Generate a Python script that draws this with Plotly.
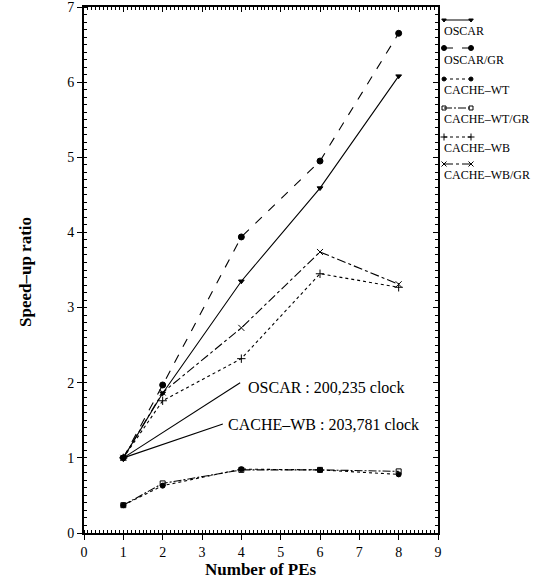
import plotly.graph_objects as go

pes = [1, 2, 4, 6, 8]
oscar = [1.0, 1.86, 3.35, 4.59, 6.08]
oscar_gr = [1.0, 1.97, 3.94, 4.95, 6.65]
cache_wt = [0.37, 0.63, 0.85, 0.84, 0.78]
cache_wt_gr = [0.37, 0.66, 0.84, 0.84, 0.82]
cache_wb = [1.0, 1.76, 2.32, 3.45, 3.27]
cache_wb_gr = [1.0, 1.87, 2.73, 3.74, 3.31]

names = ["OSCAR", "OSCAR/GR", "CACHE–WT", "CACHE–WT/GR", "CACHE–WB", "CACHE–WB/GR"]
series = [oscar, oscar_gr, cache_wt, cache_wt_gr, cache_wb, cache_wb_gr]
dashes = ["solid", "dash", "dot", "8px,2px,2px,2px", "dot", "dashdot"]
symbols = ["triangle-down", "circle", "circle", "square-open", "cross-thin-open", "x-thin-open"]
msizes = [5, 6, 5, 5, 6, 6]

notes = ["OSCAR : 200,235 clock", "CACHE–WB : 203,781 clock"]
note_ends = [(3.97, 2.0), (3.53, 1.45)]
note_text_pos = [(4.12, 1.94), (3.62, 1.44)]

FONT = "Liberation Serif"
W, H = 534, 579
ml, mt = 84, 7
mb = H - 533
mr = 0
pw = W - ml - mr
ph = H - mt - mb
dom = (438 - 84) / pw

fig = go.Figure()
for nm, ys, d, s, ms in zip(names, series, dashes, symbols, msizes):
    fig.add_trace(go.Scatter(
        x=pes, y=ys, mode="lines+markers", name=nm,
        line=dict(color="black", width=1.1, dash=d),
        marker=dict(symbol=s, size=ms, color="black", line=dict(color="black", width=1)),
        showlegend=False, cliponaxis=False))

# empty trace so the mirrored top/right axes are drawn
fig.add_trace(go.Scatter(x=[None], y=[None], xaxis="x3", yaxis="y3",
                         showlegend=False, hoverinfo="skip"))

# custom legend: sample line above label (y in pixels)
leg_y = [20, 48, 79, 108, 137, 164]
txt_y = [31, 60, 90, 119, 148, 175]
for i, (nm, d, s, ms) in enumerate(zip(names, dashes, symbols, msizes)):
    fig.add_trace(go.Scatter(
        x=[0, 1], y=[leg_y[i], leg_y[i]], mode="lines+markers", xaxis="x2", yaxis="y2",
        line=dict(color="black", width=1, dash=d),
        marker=dict(symbol=s, size=ms - 1, color="black", line=dict(color="black", width=1)),
        showlegend=False, cliponaxis=False, hoverinfo="skip"))
    fig.add_annotation(x=0, y=txt_y[i], xref="x2", yref="y2", text=nm, showarrow=False,
                       xanchor="left", yanchor="middle", xshift=-2,
                       font=dict(family=FONT, size=12, color="black"))

for t, (ex, ey), (tx, ty) in zip(notes, note_ends, note_text_pos):
    fig.add_shape(type="line", x0=pes[0], y0=1.0, x1=ex, y1=ey, xref="x", yref="y",
                  line=dict(color="black", width=1.1))
    fig.add_annotation(x=tx, y=ty, xref="x", yref="y", text=t, showarrow=False,
                       xanchor="left", yanchor="middle",
                       font=dict(family=FONT, size=16, color="black"))

# axis titles as annotations for precise placement
fig.add_annotation(x=dom / 2, y=(H - 569 - mb) / ph, xref="paper", yref="paper",
                   text="<b>Number of PEs</b>", showarrow=False, xanchor="center",
                   yanchor="middle", font=dict(family=FONT, size=17, color="black"))
fig.add_annotation(x=(26 - ml) / pw, y=(H - mb - 272) / ph, xref="paper",
                   yref="paper", text="<b>Speed–up ratio</b>", showarrow=False,
                   textangle=-90, xanchor="center", yanchor="middle",
                   font=dict(family=FONT, size=17, color="black"))

minor = dict(ticks="inside", dtick=0.1, ticklen=3, tickcolor="black")
axis_common = dict(showgrid=False, zeroline=False, showline=True, linecolor="black",
                   linewidth=2, ticks="outside", ticklen=5, automargin=False,
                   tickcolor="black", tickwidth=1, ticklabeloverflow="allow",
                   tickfont=dict(family=FONT, size=14, color="black"))
mirror_common = dict(showgrid=False, zeroline=False, showline=True, linecolor="black",
                     linewidth=2, ticks="inside", ticklen=5, automargin=False,
                     tickcolor="black", tickwidth=1, showticklabels=False)
fig.update_layout(
    width=W, height=H, margin=dict(l=ml, r=mr, t=mt, b=mb, pad=0),
    paper_bgcolor="white", plot_bgcolor="white",
    xaxis=dict(domain=[0, dom], range=[0, 9], dtick=1, minor=minor, **axis_common),
    yaxis=dict(range=[0, 7], dtick=1, minor=minor, **axis_common),
    xaxis3=dict(overlaying="x", side="top", anchor="y3", range=[0, 9], dtick=1,
                minor=minor, **mirror_common),
    yaxis3=dict(overlaying="y", side="right", anchor="x3", range=[0, 7], dtick=1,
                minor=minor, **mirror_common),
    xaxis2=dict(domain=[(444 - 84) / pw, (471 - 84) / pw], range=[0, 1], visible=False,
                anchor="y2"),
    yaxis2=dict(domain=[0, 1], range=[533, 7], visible=False, anchor="x2"),
)

# remove the default page margin so the figure fills the window exactly
fig.write_html("out.html", config={"displayModeBar": False},
               post_script="document.body.style.margin='0px';")
